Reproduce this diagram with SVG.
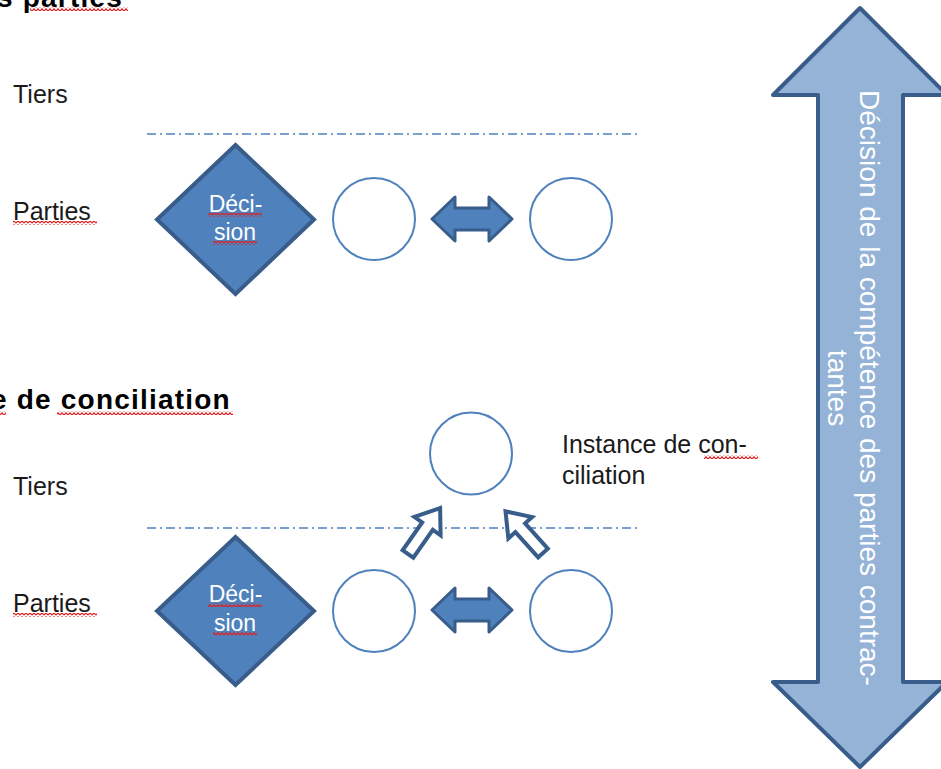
<svg xmlns="http://www.w3.org/2000/svg" width="941" height="769" viewBox="0 0 941 769">
<defs>
<style>
.lbl{font-family:"Liberation Sans",Arial,sans-serif;font-size:25px;fill:#1a1a1a}
.head{font-family:"Liberation Sans",Arial,sans-serif;font-size:28px;font-weight:bold;fill:#000;letter-spacing:1.2px}
.dtxt{font-family:"Liberation Sans",Arial,sans-serif;font-size:23px;fill:#fff;text-anchor:middle}
.vtxt{font-family:"Liberation Sans",Arial,sans-serif;font-size:28px;fill:#fff;text-anchor:middle}
.dia{fill:#4f81bd;stroke:#385d8a;stroke-width:4;stroke-linejoin:miter}
.circ{fill:#fff;stroke:#4f81bd;stroke-width:2}
.dbl{fill:#4f81bd;stroke:#385d8a;stroke-width:3;stroke-linejoin:round}
.hol{fill:#fff;stroke:#385d8a;stroke-width:4;stroke-linejoin:miter}
.sep{stroke:#4f81bd;stroke-width:1.5;stroke-dasharray:9 4 2 4;fill:none}
.sq{fill:url(#wave)}
</style>
<pattern id="wave" patternUnits="userSpaceOnUse" width="4" height="4">
<path d="M0,3.2 L2,0.8 L4,3.2" fill="none" stroke="#e02020" stroke-width="1.2"/>
</pattern>
</defs>

<!-- headings -->
<g id="heading1">
<text class="head" x="-3" y="7">s parties</text>
<rect class="sq" x="30" y="7" width="98" height="4"/>
</g>
<g id="heading2">
<text class="head" x="-9" y="409">e de conciliation</text>
<rect class="sq" x="0" y="411" width="6" height="4"/>
<rect class="sq" x="57" y="411" width="176" height="4"/>
</g>

<!-- side labels -->
<g id="tiers1"><text class="lbl" x="13" y="103">Tiers</text></g>
<g id="parties1"><text class="lbl" x="13" y="220">Parties</text><rect class="sq" x="13" y="221" width="84" height="4"/></g>
<g id="tiers2"><text class="lbl" x="13" y="495">Tiers</text></g>
<g id="parties2"><text class="lbl" x="13" y="612">Parties</text><rect class="sq" x="13" y="613" width="84" height="4"/></g>

<!-- separators -->
<g id="separators">
<line class="sep" x1="147" y1="134" x2="640" y2="134"/>
<line class="sep" x1="147" y1="528" x2="640" y2="528"/>
</g>

<!-- section 1 -->
<g id="decision1">
<polygon class="dia" points="235.5,145 314,219.5 235.5,294 157,219.5"/>
<text class="dtxt" x="235.5" y="212">Déci-</text>
<text class="dtxt" x="235" y="240">sion</text>
<rect class="sq" x="208" y="213" width="54" height="4"/>
<rect class="sq" x="213" y="241" width="44" height="4"/>
</g>
<g id="partyA1"><circle class="circ" cx="374" cy="219" r="41"/></g>
<g id="partyB1"><circle class="circ" cx="571" cy="219" r="41"/></g>

<!-- section 2 -->
<g id="decision2">
<polygon class="dia" points="235.5,537 314,611 235.5,685 157,611"/>
<text class="dtxt" x="235.5" y="602">Déci-</text>
<text class="dtxt" x="235" y="631">sion</text>
<rect class="sq" x="208" y="603" width="54" height="4"/>
<rect class="sq" x="213" y="632" width="44" height="4"/>
</g>
<g id="partyA2"><circle class="circ" cx="374" cy="611" r="41"/></g>
<g id="partyB2"><circle class="circ" cx="571" cy="611" r="41"/></g>
<g id="conciliation"><circle class="circ" cx="471" cy="453.5" r="41"/></g>
<g id="conciliationLabel">
<text class="lbl" x="562" y="453">Instance de con-</text>
<text class="lbl" x="562" y="484">ciliation</text>
<rect class="sq" x="704" y="455" width="54" height="4"/>
</g>

<!-- connectors -->
<g id="connectors">
<path class="dbl" d="M432,219 L455,197 L455,208 L489,208 L489,197 L512,219 L489,241 L489,230 L455,230 L455,241 Z"/>
<path class="dbl" d="M432,610 L455,588 L455,599 L489,599 L489,588 L512,610 L489,632 L489,621 L455,621 L455,632 Z"/>
<path class="hol" transform="translate(408,554) rotate(-55)" d="M0,-6.5 L34,-6.5 L34,-16 L56,0 L34,16 L34,6.5 L0,6.5 Z"/>
<path class="hol" transform="translate(543,553) rotate(-132)" d="M0,-6.5 L34,-6.5 L34,-16 L56,0 L34,16 L34,6.5 L0,6.5 Z"/>
</g>

<!-- big vertical double arrow -->
<g id="competence">
<path d="M860,8 L947,95 L903,95 L903,682 L947,682 L860,767 L773,682 L818,682 L818,95 L773,95 Z" fill="#95b3d7" stroke="#385d8a" stroke-width="4" stroke-linejoin="round"/>
<text class="vtxt" transform="translate(860,388) rotate(90)" word-spacing="1">Décision de la compétence des parties contrac-</text>
<text class="vtxt" transform="translate(828,388) rotate(90)">tantes</text>
</g>
</svg>
